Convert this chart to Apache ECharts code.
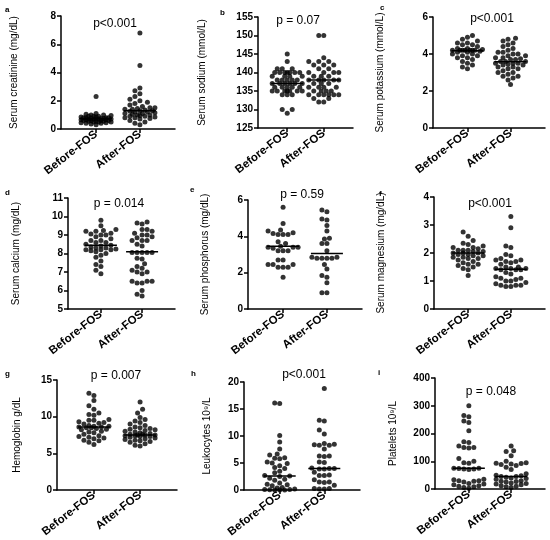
<!DOCTYPE html>
<html>
<head>
<meta charset="utf-8">
<script src="https://cdn.jsdelivr.net/npm/echarts@6.0.0/dist/echarts.min.js"></script>
<style>
html, body { margin: 0; padding: 0; background: #fff; }
#main { width: 550px; height: 540px; }
</style>
</head>
<body>
<div id="main"></div>
<script>
var groups = ['Before-FOS', 'After-FOS'];

// a - serum creatinine (mg/dL)
var creatBefore = [2.3, 1.1, 1.05, 1.0, 1.0, 0.95, 0.9, 0.9, 0.9, 0.85, 0.85, 0.8, 0.8, 0.8, 0.8, 0.75, 0.75, 0.75, 0.7, 0.7, 0.7, 0.7, 0.7, 0.65, 0.65, 0.65, 0.6, 0.6, 0.6, 0.6, 0.55, 0.55, 0.55, 0.5, 0.5, 0.5, 0.45, 0.45, 0.4, 0.4, 0.35, 0.3];
var creatAfter = [6.8, 4.5, 2.9, 2.7, 2.5, 2.3, 2.1, 2.0, 1.9, 1.8, 1.7, 1.6, 1.5, 1.5, 1.45, 1.4, 1.4, 1.35, 1.3, 1.3, 1.25, 1.2, 1.2, 1.15, 1.1, 1.1, 1.05, 1.0, 1.0, 0.95, 0.9, 0.9, 0.85, 0.8, 0.8, 0.75, 0.7, 0.6, 0.5, 0.4, 0.3];
var creatMeans = [0.72, 1.3];

// b - serum sodium (mmol/L)
var sodiumBefore = [145, 143, 141, 141, 141, 140, 140, 140, 140, 140, 140, 140, 139, 139, 139, 139, 138, 138, 138, 138, 138, 137, 137, 137, 137, 137, 137, 136, 136, 136, 136, 136, 135, 135, 135, 135, 135, 135, 135, 134, 134, 134, 130, 130, 129];
var sodiumAfter = [150, 150, 144, 143, 143, 143, 142, 142, 142, 141, 141, 140, 140, 140, 140, 139, 139, 139, 138, 138, 138, 138, 138, 137, 137, 137, 136, 136, 136, 136, 135, 135, 135, 135, 134, 134, 134, 134, 134, 134, 133, 133, 132, 132];
var sodiumMeans = [137, 138];

// c - serum potassium (mmol/L)
var potBefore = [5.0, 4.9, 4.8, 4.7, 4.6, 4.6, 4.5, 4.5, 4.4, 4.3, 4.3, 4.25, 4.2, 4.2, 4.2, 4.2, 4.2, 4.2, 4.2, 4.15, 4.1, 4.1, 4.0, 4.0, 3.9, 3.9, 3.8, 3.8, 3.7, 3.6, 3.5, 3.4, 3.3, 3.2];
var potAfter = [4.85, 4.8, 4.7, 4.6, 4.5, 4.4, 4.3, 4.2, 4.1, 4.1, 4.0, 4.0, 3.9, 3.9, 3.8, 3.8, 3.75, 3.7, 3.7, 3.6, 3.6, 3.6, 3.5, 3.5, 3.5, 3.45, 3.4, 3.4, 3.3, 3.3, 3.2, 3.2, 3.1, 3.0, 3.0, 2.9, 2.8, 2.8, 2.7, 2.6, 2.35];
var potMeans = [4.18, 3.58];

// d - serum calcium (mg/dL)
var calcBefore = [9.8, 9.5, 9.3, 9.25, 9.2, 9.2, 9.1, 9.05, 9.0, 9.0, 8.9, 8.8, 8.7, 8.7, 8.6, 8.6, 8.5, 8.45, 8.4, 8.35, 8.3, 8.3, 8.25, 8.2, 8.2, 8.2, 8.15, 8.1, 8.0, 7.9, 7.8, 7.6, 7.4, 7.3, 7.1, 6.9];
var calcAfter = [9.7, 9.65, 9.6, 9.3, 9.3, 9.2, 9.1, 9.0, 9.0, 8.9, 8.85, 8.7, 8.7, 8.7, 8.5, 8.4, 8.05, 8.05, 8.05, 8.05, 8.05, 7.75, 7.7, 7.45, 7.3, 7.2, 7.1, 7.0, 7.0, 6.9, 6.5, 6.5, 6.5, 6.4, 6.4, 6.0, 5.8, 5.7];
var calcMeans = [8.44, 8.1];

// e - serum phosphorus (mg/dL)
var phosBefore = [5.6, 4.7, 4.35, 4.3, 4.2, 4.15, 4.1, 4.1, 4.1, 3.7, 3.6, 3.45, 3.4, 3.4, 3.4, 3.35, 3.2, 3.2, 3.2, 2.7, 2.7, 2.45, 2.45, 2.45, 2.3, 2.3, 2.3, 1.75];
var phosAfter = [5.45, 5.35, 4.95, 4.9, 4.6, 4.3, 3.9, 3.85, 3.6, 3.6, 3.2, 2.85, 2.85, 2.8, 2.8, 2.8, 2.8, 2.45, 2.2, 1.85, 1.75, 1.45, 0.9, 0.9];
var phosMeans = [3.45, 3.05];

// f - serum magnesium (mg/dL)
var magBefore = [2.75, 2.6, 2.45, 2.35, 2.3, 2.25, 2.2, 2.2, 2.15, 2.1, 2.1, 2.1, 2.05, 2.05, 2.0, 2.0, 2.0, 1.95, 1.95, 1.9, 1.9, 1.85, 1.85, 1.8, 1.8, 1.75, 1.7, 1.65, 1.6, 1.6, 1.55, 1.5, 1.45, 1.4, 1.2];
var magAfter = [3.3, 2.9, 2.25, 2.2, 1.95, 1.9, 1.8, 1.75, 1.75, 1.7, 1.7, 1.65, 1.6, 1.5, 1.5, 1.45, 1.45, 1.45, 1.4, 1.4, 1.4, 1.3, 1.25, 1.15, 1.1, 1.1, 1.05, 1.0, 1.0, 0.95, 0.9, 0.85, 0.85, 0.85, 0.8, 0.8];
var magMeans = [2.0, 1.42];

// g - hemoglobin g/dL
var hbBefore = [13.2, 12.9, 12.2, 11.5, 11.0, 10.5, 10.3, 10.2, 9.6, 9.5, 9.5, 9.3, 9.2, 9.1, 9.0, 8.8, 8.7, 8.7, 8.6, 8.6, 8.5, 8.5, 8.4, 8.3, 8.2, 8.0, 7.9, 7.8, 7.6, 7.4, 7.3, 7.2, 7.1, 7.0, 6.8, 6.7, 6.5, 6.2];
var hbAfter = [12.0, 11.0, 10.5, 9.9, 9.6, 9.4, 9.2, 9.0, 8.8, 8.6, 8.5, 8.4, 8.3, 8.2, 8.1, 8.0, 7.9, 7.8, 7.7, 7.6, 7.6, 7.5, 7.5, 7.5, 7.4, 7.4, 7.3, 7.3, 7.2, 7.1, 7.0, 6.9, 6.8, 6.7, 6.6, 6.5, 6.3, 6.1, 6.0];
var hbMeans = [8.6, 7.5];

// h - leukocytes 10^9/L
var wbcBefore = [16.1, 16.0, 10.1, 8.9, 7.6, 6.7, 6.5, 6.0, 5.9, 5.8, 5.2, 5.0, 4.9, 4.5, 4.2, 4.0, 3.5, 3.2, 2.7, 2.6, 2.5, 2.2, 2.0, 1.8, 1.3, 1.1, 1.0, 0.8, 0.5, 0.4, 0.2, 0.1, 0.1, 0.05, 0.0, 0.0, 0.0];
var wbcAfter = [18.8, 12.9, 12.8, 11.1, 10.4, 8.6, 8.5, 8.4, 8.3, 8.3, 7.6, 6.3, 6.3, 6.2, 5.2, 5.1, 4.1, 4.0, 4.0, 3.9, 3.9, 3.3, 2.8, 2.7, 2.7, 1.9, 1.5, 1.5, 1.4, 0.9, 0.3, 0.3, 0.2, 0.2];
var wbcMeans = [2.6, 4.0];

// i - platelets 10^9/L
var pltBefore = [300, 265, 260, 245, 240, 210, 170, 168, 155, 150, 150, 148, 110, 100, 95, 93, 75, 75, 74, 72, 72, 70, 35, 33, 30, 30, 28, 25, 20, 18, 15, 12, 10, 8, 5, 3];
var pltAfter = [155, 138, 135, 120, 100, 95, 93, 92, 90, 88, 85, 78, 70, 55, 50, 48, 45, 45, 42, 40, 38, 35, 30, 28, 27, 25, 22, 20, 18, 15, 12, 10, 8, 5];
var pltMeans = [75, 45];

var panels = [
    {letter: 'a', name: 'Serum creatinine (mg/dL)', p: 'p<0.001', min: 0, max: 8, interval: 2, before: creatBefore, after: creatAfter, means: creatMeans},
    {letter: 'b', name: 'Serum sodium (mmol/L)', p: 'p = 0.07', min: 125, max: 155, interval: 5, before: sodiumBefore, after: sodiumAfter, means: sodiumMeans},
    {letter: 'c', name: 'Serum potassium (mmol/L)', p: 'p<0.001', min: 0, max: 6, interval: 2, before: potBefore, after: potAfter, means: potMeans},
    {letter: 'd', name: 'Serum calcium (mg/dL)', p: 'p = 0.014', min: 5, max: 11, interval: 1, before: calcBefore, after: calcAfter, means: calcMeans},
    {letter: 'e', name: 'Serum phosphorus (mg/dL)', p: 'p = 0.59', min: 0, max: 6, interval: 2, before: phosBefore, after: phosAfter, means: phosMeans},
    {letter: 'f', name: 'Serum magnesium (mg/dL)', p: 'p<0.001', min: 0, max: 4, interval: 1, before: magBefore, after: magAfter, means: magMeans},
    {letter: 'g', name: 'Hemoglobin g/dL', p: 'p = 0.007', min: 0, max: 15, interval: 5, before: hbBefore, after: hbAfter, means: hbMeans},
    {letter: 'h', name: 'Leukocytes 10⁹/L', p: 'p<0.001', min: 0, max: 20, interval: 5, before: wbcBefore, after: wbcAfter, means: wbcMeans},
    {letter: 'i', name: 'Platelets 10⁹/L', p: 'p = 0.048', min: 0, max: 400, interval: 100, before: pltBefore, after: pltAfter, means: pltMeans}
];

// grid boxes and text spots (pixels)
var layout = [
    {left: 61, top: 16, width: 114, height: 113, gap: 42, px: 115, py: 24, lx: 5, ly: 10},
    {left: 258, top: 17, width: 95, height: 111, gap: 51, px: 298, py: 21, lx: 220, ly: 13},
    {left: 433, top: 17, width: 112, height: 111, gap: 48, px: 492, py: 19, lx: 380, ly: 8},
    {left: 68, top: 198, width: 107, height: 111, gap: 47, px: 119, py: 204, lx: 5, ly: 193},
    {left: 248, top: 200, width: 114, height: 109, gap: 38, px: 302, py: 195, lx: 190, ly: 190},
    {left: 434, top: 197, width: 111, height: 112, gap: 48, px: 490, py: 204, lx: 379, ly: 194},
    {left: 57, top: 380, width: 120, height: 110, gap: 35, px: 116, py: 376, lx: 5, ly: 374},
    {left: 244, top: 382, width: 116, height: 109, gap: 32, px: 304, py: 375, lx: 191, ly: 374},
    {left: 435, top: 378, width: 110, height: 111, gap: 37, px: 491, py: 392, lx: 378, ly: 373}
];

var XMIN = 0.2, XMAX = 2.8;
var DOT = 5;
var SEP = 5;        // wanted distance between dot centres
var MAXHALF = 17;   // widest a swarm may get, px each side
var FONT = 'Arial, "Liberation Sans", Helvetica, sans-serif';

// simple beeswarm: shift points sideways, overlap only when the swarm gets too wide
function swarm(values, center, box, p) {
    var xu = (XMAX - XMIN) / box.width;
    var yu = (p.max - p.min) / box.height;
    var sorted = values.slice().sort(function (a, b) { return a - b; });
    var placed = [];
    var out = [];
    var cands = [0];
    for (var s = SEP * 0.5; s <= MAXHALF; s += SEP * 0.5) { cands.push(-s); cands.push(s); }
    sorted.forEach(function (v) {
        var ypx = (v - p.min) / yu;
        var best = 0, bestD = -1;
        for (var k = 0; k < cands.length; k++) {
            var c = cands[k], minD = Infinity;
            for (var j = 0; j < placed.length; j++) {
                var dx = placed[j][0] - c, dy = placed[j][1] - ypx;
                var d = Math.sqrt(dx * dx + dy * dy);
                if (d < minD) minD = d;
            }
            if (minD >= SEP) { best = c; bestD = minD; break; }
            if (minD > bestD + 0.3) { best = c; bestD = minD; }
        }
        placed.push([best, ypx]);
        out.push([center + best * xu, v]);
    });
    return out;
}

var chart = echarts.init(document.getElementById('main'));
var grids = [], xAxes = [], yAxes = [], series = [], graphics = [];

panels.forEach(function (p, i) {
    var box = layout[i];
    grids.push({left: box.left, top: box.top, width: box.width, height: box.height});
    xAxes.push({
        type: 'value', gridIndex: i, min: XMIN, max: XMAX,
        axisLine: {show: true, lineStyle: {color: '#000', width: 1.5}},
        axisTick: {show: true, customValues: [1, 2], length: 4, lineStyle: {color: '#000', width: 1.5}},
        axisLabel: {
            customValues: [1, 2], rotate: 38, margin: 4,
            color: '#000', fontSize: 11.5, fontWeight: 'bold', fontFamily: FONT,
            formatter: function (v) { return groups[Math.round(v) - 1]; }
        },
        splitLine: {show: false}
    });
    yAxes.push({
        type: 'value', gridIndex: i, min: p.min, max: p.max, interval: p.interval,
        name: p.name, nameLocation: 'middle', nameRotate: 90, nameGap: box.gap,
        nameTextStyle: {color: '#000', fontSize: 10, fontFamily: FONT},
        axisLine: {show: true, lineStyle: {color: '#000', width: 1.5}},
        axisTick: {show: true, length: 4, lineStyle: {color: '#000', width: 1.5}},
        axisLabel: {color: '#000', fontSize: 10, fontWeight: 'bold', fontFamily: FONT, margin: 5},
        splitLine: {show: false}
    });
    [p.before, p.after].forEach(function (vals, g) {
        series.push({
            type: 'scatter', xAxisIndex: i, yAxisIndex: i,
            symbolSize: DOT, itemStyle: {color: '#000'},
            data: swarm(vals, g + 1, box, p)
        });
        var half = 16 * (XMAX - XMIN) / box.width;
        series.push({
            type: 'line', xAxisIndex: i, yAxisIndex: i, symbol: 'none', z: 3,
            lineStyle: {color: '#000', width: 1.5},
            data: [[g + 1 - half, p.means[g]], [g + 1 + half, p.means[g]]]
        });
    });
    graphics.push({
        type: 'text', x: box.px, y: box.py,
        style: {text: p.p, fill: '#000', font: '12px ' + FONT, align: 'center', verticalAlign: 'middle'}
    });
    graphics.push({
        type: 'text', x: box.lx, y: box.ly,
        style: {text: p.letter, fill: '#000', font: 'bold 8px ' + FONT, align: 'left', verticalAlign: 'middle'}
    });
});

chart.setOption({
    animation: false,
    grid: grids,
    xAxis: xAxes,
    yAxis: yAxes,
    series: series,
    graphic: graphics
});
</script>
</body>
</html>
